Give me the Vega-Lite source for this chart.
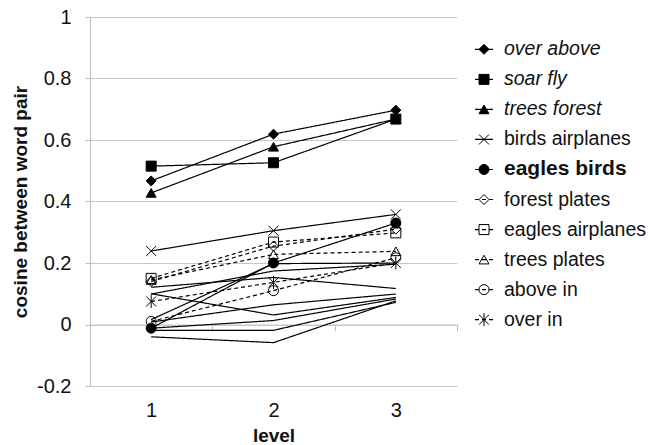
{
  "$schema": "https://vega.github.io/schema/vega-lite/v6.json",
  "padding": {"left": 11, "top": 7, "right": 0, "bottom": 0},
  "background": "white",
  "config": {"font": "Liberation Sans", "view": {"stroke": null}},
  "spacing": 18,
  "bounds": "flush",
  "resolve": {"scale": {"x": "independent", "y": "independent"}},
  "datasets": {
    "cosines": [
      {"pair": "other 1", "level": 1, "cosine": 0.121}, {"pair": "other 1", "level": 2, "cosine": 0.153}, {"pair": "other 1", "level": 3, "cosine": 0.117},
      {"pair": "other 2", "level": 1, "cosine": 0.099}, {"pair": "other 2", "level": 2, "cosine": 0.174}, {"pair": "other 2", "level": 3, "cosine": 0.196},
      {"pair": "other 3", "level": 1, "cosine": 0.016}, {"pair": "other 3", "level": 2, "cosine": 0.198}, {"pair": "other 3", "level": 3, "cosine": 0.2},
      {"pair": "other 4", "level": 1, "cosine": 0.008}, {"pair": "other 4", "level": 2, "cosine": 0.064}, {"pair": "other 4", "level": 3, "cosine": 0.099},
      {"pair": "other 5", "level": 1, "cosine": 0.1}, {"pair": "other 5", "level": 2, "cosine": 0.031}, {"pair": "other 5", "level": 3, "cosine": 0.088},
      {"pair": "other 6", "level": 1, "cosine": -0.012}, {"pair": "other 6", "level": 2, "cosine": 0.013}, {"pair": "other 6", "level": 3, "cosine": 0.083},
      {"pair": "other 7", "level": 1, "cosine": -0.04}, {"pair": "other 7", "level": 2, "cosine": -0.059}, {"pair": "other 7", "level": 3, "cosine": 0.077},
      {"pair": "other 8", "level": 1, "cosine": -0.019}, {"pair": "other 8", "level": 2, "cosine": -0.019}, {"pair": "other 8", "level": 3, "cosine": 0.072},
      {"pair": "over above", "level": 1, "cosine": 0.467}, {"pair": "over above", "level": 2, "cosine": 0.619}, {"pair": "over above", "level": 3, "cosine": 0.697},
      {"pair": "soar fly", "level": 1, "cosine": 0.515}, {"pair": "soar fly", "level": 2, "cosine": 0.526}, {"pair": "soar fly", "level": 3, "cosine": 0.668},
      {"pair": "trees forest", "level": 1, "cosine": 0.428}, {"pair": "trees forest", "level": 2, "cosine": 0.578}, {"pair": "trees forest", "level": 3, "cosine": 0.668},
      {"pair": "birds airplanes", "level": 1, "cosine": 0.239}, {"pair": "birds airplanes", "level": 2, "cosine": 0.305}, {"pair": "birds airplanes", "level": 3, "cosine": 0.358},
      {"pair": "forest plates", "level": 1, "cosine": 0.14}, {"pair": "forest plates", "level": 2, "cosine": 0.255}, {"pair": "forest plates", "level": 3, "cosine": 0.31},
      {"pair": "eagles airplanes", "level": 1, "cosine": 0.15}, {"pair": "eagles airplanes", "level": 2, "cosine": 0.268}, {"pair": "eagles airplanes", "level": 3, "cosine": 0.298},
      {"pair": "trees plates", "level": 1, "cosine": 0.145}, {"pair": "trees plates", "level": 2, "cosine": 0.228}, {"pair": "trees plates", "level": 3, "cosine": 0.238},
      {"pair": "above in", "level": 1, "cosine": 0.01}, {"pair": "above in", "level": 2, "cosine": 0.11}, {"pair": "above in", "level": 3, "cosine": 0.217},
      {"pair": "over in", "level": 1, "cosine": 0.075}, {"pair": "over in", "level": 2, "cosine": 0.137}, {"pair": "over in", "level": 3, "cosine": 0.2},
      {"pair": "eagles birds", "level": 1, "cosine": -0.012}, {"pair": "eagles birds", "level": 2, "cosine": 0.2}, {"pair": "eagles birds", "level": 3, "cosine": 0.33}
    ],
    "legendPairs": [
      {"pair": "over above"}, {"pair": "soar fly"}, {"pair": "trees forest"}, {"pair": "birds airplanes"}, {"pair": "eagles birds"},
      {"pair": "forest plates"}, {"pair": "eagles airplanes"}, {"pair": "trees plates"}, {"pair": "above in"}, {"pair": "over in"}
    ]
  },
  "hconcat": [
    {
      "width": 367,
      "height": 369,
      "data": {"name": "cosines"},
      "layer": [
        {
          "mark": {"type": "line", "color": "black"},
          "encoding": {
            "x": {
              "field": "level", "type": "quantitative",
              "scale": {"domain": [0.5, 3.5], "nice": false, "zero": false},
              "axis": {"orient": "bottom", "values": [1, 2, 3], "format": "d", "title": "level", "ticks": false, "domain": false, "grid": false,
                "labelPadding": 14, "labelFontSize": 20, "labelColor": "#111", "titleFontSize": 19, "titleFontWeight": "bold", "titleColor": "#111", "titlePadding": 6}
            },
            "y": {
              "field": "cosine", "type": "quantitative",
              "scale": {"domain": [-0.2, 1], "nice": false, "zero": false},
              "axis": {"orient": "left", "values": [-0.2, 0, 0.2, 0.4, 0.6, 0.8, 1], "labelExpr": "'' + datum.value", "title": "cosine between word pair",
                "grid": true, "gridColor": "#c8c8c8", "domainColor": "#bbbbbb", "tickColor": "#bbbbbb", "tickSize": 5, "labelPadding": 14, "labelFlush": false,
                "labelFontSize": 20, "labelColor": "#111", "titleFontSize": 19, "titleFontWeight": "bold", "titleColor": "#111", "titlePadding": 6}
            },
            "detail": {"field": "pair"},
            "strokeDash": {
              "field": "pair", "type": "nominal", "legend": null,
              "scale": {
                "domain": ["over above", "soar fly", "trees forest", "birds airplanes", "eagles birds", "forest plates", "eagles airplanes", "trees plates", "above in", "over in", "other 1", "other 2", "other 3", "other 4", "other 5", "other 6", "other 7", "other 8"],
                "range": [[1, 0], [1, 0], [1, 0], [1, 0], [1, 0], [4, 3], [4, 3], [4, 3], [4, 3], [4, 3], [1, 0], [1, 0], [1, 0], [1, 0], [1, 0], [1, 0], [1, 0], [1, 0]]
              }
            },
            "strokeWidth": {
              "field": "pair", "type": "nominal", "legend": null,
              "scale": {
                "domain": ["over above", "soar fly", "trees forest", "birds airplanes", "eagles birds", "forest plates", "eagles airplanes", "trees plates", "above in", "over in", "other 1", "other 2", "other 3", "other 4", "other 5", "other 6", "other 7", "other 8"],
                "range": [1.2, 1.2, 1.2, 1.2, 2.6, 1.2, 1.2, 1.2, 1.2, 1.2, 1.2, 1.2, 1.2, 1.2, 1.2, 1.2, 1.2, 1.2]
              }
            }
          }
        },
        {
          "transform": [{"filter": {"field": "pair", "oneOf": ["over above", "soar fly", "trees forest", "birds airplanes", "eagles birds", "forest plates", "eagles airplanes", "trees plates", "above in", "over in"]}}],
          "mark": {"type": "point", "filled": true, "stroke": "black", "strokeWidth": 1, "opacity": 1},
          "encoding": {
            "x": {
              "field": "level", "type": "quantitative",
              "axis": {"orient": "top", "offset": {"expr": "-scale('concat_0_y', 0)"}, "values": [0.5, 1.5, 2.5, 3.5], "labels": false, "title": null,
                "tickSize": -6, "tickColor": "#bbbbbb", "domain": true, "domainColor": "#c8c8c8", "grid": false}
            },
            "y": {"field": "cosine", "type": "quantitative"},
            "shape": {
              "field": "pair", "type": "nominal", "legend": null,
              "scale": {
                "domain": ["over above", "soar fly", "trees forest", "birds airplanes", "eagles birds", "forest plates", "eagles airplanes", "trees plates", "above in", "over in"],
                "range": ["diamond", "square", "triangle-up", "M-1,-1L1,1M-1,1L1,-1", "circle", "diamond", "square", "triangle-up", "circle", "M-1,-1L1,1M-1,1L1,-1M0,-1.3L0,1.3"]
              }
            },
            "fill": {
              "field": "pair", "type": "nominal", "legend": null,
              "scale": {
                "domain": ["over above", "soar fly", "trees forest", "birds airplanes", "eagles birds", "forest plates", "eagles airplanes", "trees plates", "above in", "over in"],
                "range": ["black", "black", "black", "transparent", "black", "transparent", "transparent", "transparent", "transparent", "transparent"]
              }
            },
            "size": {
              "field": "pair", "type": "nominal", "legend": null,
              "scale": {
                "domain": ["over above", "soar fly", "trees forest", "birds airplanes", "eagles birds", "forest plates", "eagles airplanes", "trees plates", "above in", "over in"],
                "range": [100, 100, 110, 100, 110, 80, 80, 85, 80, 80]
              }
            }
          }
        }
      ]
    },
    {
      "width": 170,
      "height": 335,
      "data": {"name": "legendPairs"},
      "encoding": {
        "y": {
          "field": "pair", "type": "nominal", "axis": null,
          "sort": ["over above", "soar fly", "trees forest", "birds airplanes", "eagles birds", "forest plates", "eagles airplanes", "trees plates", "above in", "over in"],
          "scale": {"type": "band", "paddingInner": 0, "paddingOuter": 0.577}
        }
      },
      "layer": [
        {
          "mark": {"type": "rule", "color": "black"},
          "encoding": {
            "x": {"datum": 0, "type": "quantitative", "scale": {"domain": [0, 170], "nice": false}, "axis": null},
            "x2": {"datum": 18},
            "strokeDash": {
              "field": "pair", "type": "nominal", "legend": null,
              "scale": {
                "domain": ["over above", "soar fly", "trees forest", "birds airplanes", "eagles birds", "forest plates", "eagles airplanes", "trees plates", "above in", "over in"],
                "range": [[1, 0], [1, 0], [1, 0], [1, 0], [1, 0], [3, 3], [3, 3], [3, 3], [3, 3], [3, 3]]
              }
            },
            "strokeWidth": {
              "field": "pair", "type": "nominal", "legend": null,
              "scale": {
                "domain": ["over above", "soar fly", "trees forest", "birds airplanes", "eagles birds", "forest plates", "eagles airplanes", "trees plates", "above in", "over in"],
                "range": [1.2, 1.2, 1.2, 1.2, 2.6, 1.2, 1.2, 1.2, 1.2, 1.2]
              }
            }
          }
        },
        {
          "mark": {"type": "point", "filled": true, "stroke": "black", "strokeWidth": 1, "opacity": 1},
          "encoding": {
            "x": {"datum": 9, "type": "quantitative"},
            "shape": {
              "field": "pair", "type": "nominal", "legend": null,
              "scale": {
                "domain": ["over above", "soar fly", "trees forest", "birds airplanes", "eagles birds", "forest plates", "eagles airplanes", "trees plates", "above in", "over in"],
                "range": ["diamond", "square", "triangle-up", "M-1,-1L1,1M-1,1L1,-1", "circle", "diamond", "square", "triangle-up", "circle", "M-1,-1L1,1M-1,1L1,-1M0,-1.3L0,1.3"]
              }
            },
            "fill": {
              "field": "pair", "type": "nominal", "legend": null,
              "scale": {
                "domain": ["over above", "soar fly", "trees forest", "birds airplanes", "eagles birds", "forest plates", "eagles airplanes", "trees plates", "above in", "over in"],
                "range": ["black", "black", "black", "white", "black", "white", "white", "white", "white", "white"]
              }
            },
            "size": {
              "field": "pair", "type": "nominal", "legend": null,
              "scale": {
                "domain": ["over above", "soar fly", "trees forest", "birds airplanes", "eagles birds", "forest plates", "eagles airplanes", "trees plates", "above in", "over in"],
                "range": [70, 70, 70, 70, 80, 60, 60, 60, 60, 60]
              }
            }
          }
        },
        {
          "transform": [{"filter": {"field": "pair", "oneOf": ["over above", "soar fly", "trees forest"]}}],
          "mark": {"type": "text", "align": "left", "baseline": "middle", "fontSize": 19.5, "fontStyle": "italic", "color": "#111"},
          "encoding": {"x": {"datum": 29, "type": "quantitative"}, "text": {"field": "pair"}}
        },
        {
          "transform": [{"filter": {"field": "pair", "oneOf": ["birds airplanes", "forest plates", "eagles airplanes", "trees plates", "above in", "over in"]}}],
          "mark": {"type": "text", "align": "left", "baseline": "middle", "fontSize": 19.5, "color": "#111"},
          "encoding": {"x": {"datum": 29, "type": "quantitative"}, "text": {"field": "pair"}}
        },
        {
          "transform": [{"filter": {"field": "pair", "oneOf": ["eagles birds"]}}],
          "mark": {"type": "text", "align": "left", "baseline": "middle", "fontSize": 21, "fontWeight": "bold", "color": "#111"},
          "encoding": {"x": {"datum": 29, "type": "quantitative"}, "text": {"field": "pair"}}
        }
      ]
    }
  ]
}
